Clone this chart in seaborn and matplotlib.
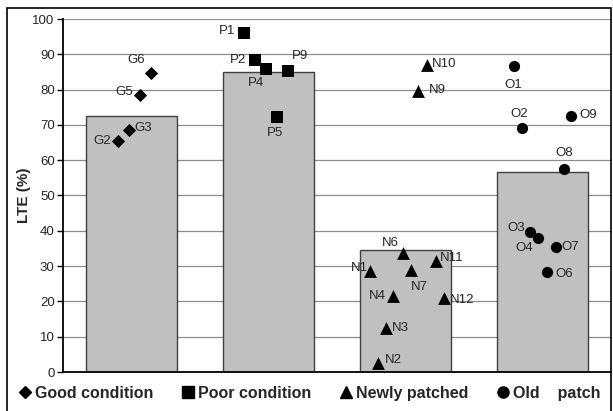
import numpy as np
import pandas as pd
import matplotlib
matplotlib.use('Agg')
import matplotlib.pyplot as plt
from matplotlib.patches import Rectangle
from matplotlib.lines import Line2D
import seaborn as sns

# bar heights (mean LTE per group)
groups = ['Good condition', 'Poor condition', 'Newly patched', 'Old patch']
group_means = [72.5, 85, 34.5, 56.7]

# individual sections: label, x position (category units), LTE value
good_names = ['G2', 'G3', 'G5', 'G6']
good_x = [-0.10, -0.02, 0.06, 0.14]
good_y = [65.3, 68.6, 78.5, 84.6]

poor_names = ['P1', 'P2', 'P4', 'P9', 'P5']
poor_x = [0.82, 0.90, 0.985, 1.14, 1.06]
poor_y = [95.9, 88.4, 85.8, 85.4, 72.2]

new_names = ['N10', 'N9', 'N6', 'N11', 'N1', 'N7', 'N4', 'N12', 'N3', 'N2']
new_x = [2.16, 2.09, 1.98, 2.22, 1.74, 2.04, 1.91, 2.28, 1.86, 1.80]
new_y = [87.0, 79.6, 33.6, 31.5, 28.6, 28.9, 21.6, 20.9, 12.6, 2.6]

old_names = ['O1', 'O2', 'O9', 'O8', 'O3', 'O4', 'O7', 'O6']
old_x = [2.79, 2.85, 3.21, 3.16, 2.91, 2.97, 3.10, 3.03]
old_y = [86.8, 69.1, 72.5, 57.5, 39.7, 38.0, 35.3, 28.2]

# label offsets in points (dx, dy, ha, va)
offsets = {
    'G2': (-5, 0, 'right', 'center'), 'G3': (4, 1, 'left', 'center'),
    'G5': (-5, 2, 'right', 'center'), 'G6': (-4, 5, 'right', 'bottom'),
    'P1': (-6, 2, 'right', 'center'), 'P2': (-6, 0, 'right', 'center'),
    'P4': (-2, -6, 'right', 'top'), 'P9': (3, 6, 'left', 'bottom'),
    'P5': (-1, -7, 'center', 'top'),
    'N10': (3, 1, 'left', 'center'), 'N9': (8, 1, 'left', 'center'),
    'N6': (-3, 3, 'right', 'bottom'), 'N11': (3, 2, 'left', 'center'),
    'N1': (-1, 2, 'right', 'center'), 'N7': (0, -8, 'left', 'top'),
    'N4': (-5, 0, 'right', 'center'), 'N12': (4, -1, 'left', 'center'),
    'N3': (4, 0, 'left', 'center'), 'N2': (5, 2, 'left', 'center'),
    'O1': (0, -10, 'center', 'top'), 'O2': (-2, 6, 'center', 'bottom'),
    'O9': (6, 1, 'left', 'center'), 'O8': (0, 7, 'center', 'bottom'),
    'O3': (-4, 3, 'right', 'center'), 'O4': (-4, -7, 'right', 'center'),
    'O7': (4, 0, 'left', 'center'), 'O6': (6, -1, 'left', 'center'),
}

sns.set_style('white')
plt.rcParams['font.family'] = ['Liberation Sans', 'DejaVu Sans']

fig = plt.figure(figsize=(6.13, 4.11), dpi=100)
ax = fig.add_axes([63 / 613, 1 - 372 / 411, 548 / 613, 353 / 411])

bars = pd.DataFrame({'group': groups, 'LTE': group_means})
sns.barplot(data=bars, x='group', y='LTE', color='#C0C0C0', saturation=1,
            edgecolor='#404040', linewidth=1.0, width=0.665, ax=ax, zorder=2)

sets = [
    (good_names, good_x, good_y, 'D', 45),
    (poor_names, poor_x, poor_y, 's', 70),
    (new_names, new_x, new_y, '^', 85),
    (old_names, old_x, old_y, 'o', 65),
]
for names, xs, ys, mk, sz in sets:
    pts = pd.DataFrame({'x': xs, 'y': ys})
    sns.scatterplot(data=pts, x='x', y='y', marker=mk, s=sz, color='black',
                    edgecolor='black', linewidth=0, ax=ax, zorder=4)
    for n, x, y in zip(names, xs, ys):
        dx, dy, ha, va = offsets[n]
        ax.annotate(n, (x, y), xytext=(dx, dy), textcoords='offset points',
                    ha=ha, va=va, fontsize=9.5, zorder=5)

ax.set_xlim(-0.5, 3.5)
ax.set_ylim(0, 100)
ax.set_yticks(range(0, 101, 10))
ax.yaxis.grid(True, color='#8c8c8c', linewidth=0.9)
ax.set_axisbelow(True)
ax.set_xticks([])
ax.set_xlabel('')
ax.set_ylabel('LTE (%)', fontsize=11, fontweight='bold', labelpad=1)
ax.tick_params(axis='y', left=True, length=4, width=1, color='black',
               labelsize=9.5, pad=2)
for side in ['top', 'right']:
    ax.spines[side].set_visible(False)
for side in ['left', 'bottom']:
    ax.spines[side].set_color('black')
    ax.spines[side].set_linewidth(1.3)

handles = [
    Line2D([], [], marker='D', color='black', linestyle='', markersize=6),
    Line2D([], [], marker='s', color='black', linestyle='', markersize=8),
    Line2D([], [], marker='^', color='black', linestyle='', markersize=8),
    Line2D([], [], marker='o', color='black', linestyle='', markersize=8),
]
labels = ['Good condition', 'Poor condition', 'Newly patched', 'Old    patch']
fig.legend(handles, labels, loc='center', bbox_to_anchor=(0.506, 1 - 393 / 411),
           ncol=4, frameon=False, handlelength=0.6, handletextpad=0.3,
           columnspacing=1.9, prop={'weight': 'bold', 'size': 11.5})

fig.patches.append(Rectangle((7 / 613, -0.05), 604 / 613, 1.05 - 8 / 411,
                             transform=fig.transFigure, fill=False,
                             edgecolor='black', linewidth=1.2))

fig.savefig('out.png', dpi=100)
